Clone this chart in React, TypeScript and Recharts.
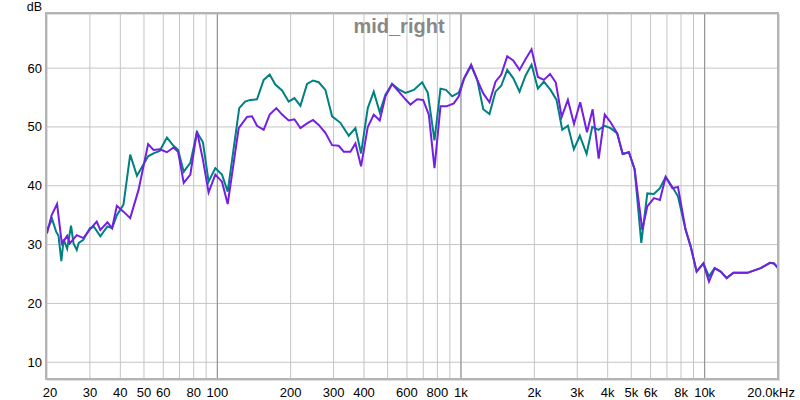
import React from "react";
import { LineChart, Line, XAxis, YAxis, CartesianGrid, ReferenceLine } from "recharts";

// [frequency Hz, level dB]
const tealPoints: [number, number][] = [
  [20, 32.5], [21, 34.3], [21.8, 32.2], [22.3, 31.5], [22.9, 27.2], [23.4, 30.9], [24.2, 29.3],
  [25.1, 33.2], [25.7, 30.2], [26.5, 29.1], [27, 30.3], [28.2, 30.8], [30, 32.8], [31.2, 33.0],
  [33.1, 31.4], [35.4, 33.1], [37, 32.8], [38.7, 35.0], [41.2, 36.8], [43.9, 45.3], [46.8, 41.7],
  [50, 43.8], [52, 45.0], [54.7, 45.5], [58, 45.9], [62.1, 48.2], [66.1, 46.8], [69, 46.1],
  [72.8, 42.4], [77.5, 43.9], [82.5, 49.1], [87.3, 47.4], [92.1, 40.7], [98.1, 43.0], [104.5, 41.9],
  [110.3, 39.0], [123, 53.2], [130, 54.3], [136.6, 54.6], [145.5, 54.7], [155, 58.0], [164, 58.9],
  [173, 57.2], [184.4, 56.2], [196.3, 54.3], [207.2, 54.9], [219.3, 53.6], [233.5, 57.3],
  [247.1, 57.9], [260.7, 57.6], [277.7, 56.3], [295.8, 51.8], [320, 50.7], [346.3, 48.5],
  [368.8, 49.8], [389, 45.5], [414.4, 53.2], [438.5, 56.0], [464.1, 52.5], [489.7, 55.5],
  [521.5, 57.3], [555.5, 56.4], [591.6, 55.8], [640.3, 56.3], [692.6, 57.6], [730.8, 55.8],
  [778.5, 47.7], [823.9, 56.5], [868, 56.3], [920, 55.2], [979.5, 55.85], [1030, 58.2],
  [1101, 60.4], [1166, 58.0], [1234, 53.0], [1309, 52.2], [1386, 56.0], [1463, 57.0],
  [1548, 59.7], [1638, 58.3], [1739, 56.0], [1840, 58.7], [1948, 60.6], [2068, 56.5],
  [2188, 57.7], [2331, 56.3], [2467, 54.6], [2604, 49.5], [2746, 50.2], [2905, 46.2],
  [3075, 48.5], [3277, 45.4], [3457, 50.0], [3670, 49.5], [3885, 50.2], [4111, 49.8],
  [4381, 48.9], [4610, 45.4], [4888, 45.7], [5159, 42.8], [5495, 30.3], [5817, 38.7],
  [6191, 38.6], [6553, 39.6], [6918, 41.5], [7370, 39.8], [7770, 38.2], [8356, 32.5],
  [8761, 29.7], [9271, 25.4], [9878, 26.8], [10417, 24.6], [10992, 26.0], [11634, 25.4],
  [12314, 24.3], [13120, 25.2], [14976, 25.2], [16982, 26.0], [18544, 26.9], [19257, 26.8],
  [20000, 26.0],
];

const purplePoints: [number, number][] = [
  [20, 31.9], [20.9, 35.0], [22, 36.9], [23, 30.2], [23.6, 30.8], [24.2, 31.5], [24.8, 30.2],
  [26.5, 31.6], [28.2, 31.1], [30, 32.6], [32, 33.9], [33.1, 32.5], [35.4, 33.8], [37, 32.8],
  [38.7, 36.6], [41.2, 35.6], [43.9, 34.5], [47.5, 39.3], [52, 47.1], [54.7, 46.1], [58, 46.2],
  [62.1, 45.7], [66.1, 46.5], [69, 45.8], [72.8, 40.5], [77.5, 41.9], [82.5, 49.3], [87.3, 44.4],
  [92.1, 38.85], [98.1, 41.9], [104.5, 40.7], [110.3, 36.9], [122.4, 49.8], [132.4, 51.7],
  [138.8, 51.8], [145.5, 50.2], [155, 49.5], [164, 52.1], [174.7, 53.2], [184.4, 52.1],
  [196.3, 51.1], [207.2, 51.3], [219.3, 49.8], [233.5, 50.6], [247.1, 51.2], [260.7, 50.35],
  [277.7, 49.0], [295.8, 46.9], [315, 46.8], [330.3, 45.8], [351.8, 45.8], [368.8, 47.2],
  [389, 43.3], [414.4, 50.0], [438.5, 52.1], [464.1, 51.1], [489.7, 55.2], [521.5, 57.3],
  [555.5, 56.0], [591.6, 54.7], [620.3, 53.8], [660.7, 54.7], [699.2, 54.6], [737.8, 52.1],
  [778.5, 43.0], [823.9, 53.5], [871.9, 53.5], [934.5, 54.0], [979.5, 55.2], [1030, 58.3],
  [1101, 60.6], [1166, 58.0], [1234, 55.7], [1309, 54.2], [1386, 57.7], [1463, 58.9],
  [1548, 62.0], [1638, 61.3], [1739, 59.7], [1840, 61.5], [1948, 63.2], [2068, 58.5],
  [2188, 58.0], [2320, 59.0], [2450, 57.55], [2590, 51.7], [2746, 54.6], [2910, 50.5],
  [3085, 54.2], [3290, 49.1], [3470, 53.0], [3675, 44.6], [3890, 52.1], [4111, 50.8],
  [4365, 49.0], [4610, 45.4], [4888, 45.7], [5159, 42.8], [5547, 32.5], [5817, 36.5],
  [6191, 37.9], [6553, 37.6], [6918, 41.5], [7370, 39.6], [7770, 39.8], [8356, 32.5],
  [8761, 29.7], [9271, 25.4], [9878, 26.8], [10417, 23.7], [10992, 26.0], [11634, 25.4],
  [12314, 24.3], [13120, 25.2], [14976, 25.2], [16982, 26.0], [18544, 26.9], [19257, 26.8],
  [20000, 26.0],
];

const gridFreqs = [
  20, 30, 40, 50, 60, 70, 80, 90, 100, 200, 300, 400, 500, 600, 700, 800, 900,
  1000, 2000, 3000, 4000, 5000, 6000, 7000, 8000, 9000, 10000, 20000,
];
const decadeFreqs = [100, 1000, 10000];
const freqLabels: Record<number, string> = {
  20: "20", 30: "30", 40: "40", 50: "50", 60: "60", 80: "80", 100: "100",
  200: "200", 300: "300", 400: "400", 600: "600", 800: "800", 1000: "1k",
  2000: "2k", 3000: "3k", 4000: "4k", 5000: "5k", 6000: "6k", 8000: "8k",
  10000: "10k", 20000: "20.0kHz",
};
const dbTicks = [10, 20, 30, 40, 50, 60];

const FONT = "'Liberation Sans', Arial, sans-serif";

const tealData = tealPoints.map(([f, db]) => ({ f, db }));
const purpleData = purplePoints.map(([f, db]) => ({ f, db }));

const XTick = ({ x, y, payload }: any) => {
  const label = freqLabels[payload.value] || "";
  if (!label) return null;
  const last = payload.value === 20000;
  const first = payload.value === 20;
  return (
    <text
      x={last ? 795 : first ? x + 3 : x}
      y={y + 17.5}
      textAnchor={last ? "end" : "middle"}
      fontSize={13}
      fontFamily={FONT}
      fill="#000"
    >
      {label}
    </text>
  );
};

const YTick = ({ x, y, payload }: any) => (
  <text x={x - 5} y={y + 4.5} textAnchor="end" fontSize={13} fontFamily={FONT} fill="#000">
    {payload.value}
  </text>
);

export default function App() {
  return (
    <div style={{ position: "absolute", left: 0, top: 0, width: 800, height: 400, background: "#fff" }}>
      <LineChart width={800} height={400} margin={{ top: 14, right: 22, bottom: 0, left: 0 }}>
        <CartesianGrid stroke="#c4c4c4" strokeWidth={1} />
        <XAxis
          type="number"
          dataKey="f"
          scale="log"
          domain={[20, 20000]}
          ticks={gridFreqs}
          interval={0}
          allowDataOverflow
          axisLine={false}
          tickLine={false}
          tickSize={0}
          tickMargin={0}
          height={21}
          tick={(p: any) => <XTick {...p} />}
        />
        <YAxis
          type="number"
          domain={[7.15, 69.2]}
          ticks={dbTicks}
          interval={0}
          allowDataOverflow
          axisLine={false}
          tickLine={false}
          tickSize={0}
          tickMargin={0}
          width={47}
          tick={(p: any) => <YTick {...p} />}
        />
        {decadeFreqs.map((f) => (
          <ReferenceLine key={f} x={f} stroke="#8c8c8c" strokeWidth={1} />
        ))}
        <Line
          data={tealData}
          dataKey="db"
          type="linear"
          stroke="#008080"
          strokeWidth={2}
          dot={false}
          isAnimationActive={false}
        />
        <Line
          data={purpleData}
          dataKey="db"
          type="linear"
          stroke="#7320e3"
          strokeWidth={2}
          dot={false}
          isAnimationActive={false}
        />
      </LineChart>
      <svg
        width={800}
        height={400}
        style={{ position: "absolute", left: 0, top: 0, pointerEvents: "none" }}
      >
        <rect x={46} y={13} width={732} height={366} fill="none" stroke="#b4b4b4" strokeWidth={2} />
        <line x1={779.5} y1={14} x2={779.5} y2={381} stroke="#dcdcdc" strokeWidth={1} />
        <line x1={47} y1={380.5} x2={780} y2={380.5} stroke="#dcdcdc" strokeWidth={1} />
        <text x={42} y={11} textAnchor="end" fontSize={12.5} fontFamily={FONT} fill="#000">
          dB
        </text>
        <text
          x={399}
          y={33}
          textAnchor="middle"
          fontSize={20}
          fontWeight="bold"
          fontFamily={FONT}
          fill="#888"
        >
          mid_right
        </text>
      </svg>
    </div>
  );
}
